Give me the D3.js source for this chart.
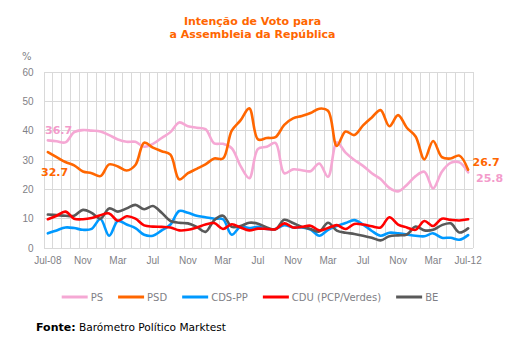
<!DOCTYPE html>
<meta charset="utf-8">
<head>
    <style>
        body { margin: 0; background: #fff; }
        svg { display: block; font-family: "DejaVu Sans", Verdana, sans-serif; }
        .grid line { stroke: #d9d9d9; stroke-width: 1; shape-rendering: crispEdges; }
        .axis text { fill: #7f7f86; font-size: 10px; }
    </style>
</head>
<body>
    <script src="https://d3js.org/d3.v7.min.js"></script>
    <div id="chart"></div>
    <script>
        // monthly polls, Jul-08 .. Jul-12
        var ps = [36.7, 36.4, 36.0, 39.5, 40.2, 40.0, 39.7, 38.5, 37.0, 36.2, 36.2, 34.5, 35.5,
            37.5, 39.5, 42.8, 41.5, 41.0, 40.5, 35.7, 35.5, 34.0, 28.0, 23.8, 33.8, 34.5, 35.8,
            25.5, 26.8, 26.5, 26.2, 28.8, 24.3, 36.0, 32.5, 30.0, 28.0, 25.5, 23.5, 20.5, 19.3,
            21.5, 24.5, 26.0, 20.3, 26.0, 29.0, 29.2, 25.8];
        var psd = [32.7, 31.0, 29.3, 28.2, 26.1, 25.5, 24.5, 28.5, 27.8, 26.4, 28.3, 35.9, 34.2,
            33.0, 31.8, 23.4, 25.5, 27.0, 28.5, 30.5, 30.5, 40.0, 43.5, 47.6, 37.0, 37.5, 37.8,
            42.0, 44.2, 45.0, 46.0, 47.5, 46.8, 34.8, 39.7, 38.5, 41.8, 44.5, 47.0, 41.5, 45.3,
            41.0, 38.0, 30.2, 36.5, 31.0, 30.5, 31.5, 26.7];
        var cds = [5.0, 6.0, 7.0, 6.8, 6.2, 6.5, 9.9, 4.2, 9.2, 8.0, 6.8, 4.5, 4.2,
            6.0, 8.0, 12.6, 12.0, 11.0, 10.5, 10.0, 9.8, 4.5, 7.2, 6.8, 7.2, 6.5, 6.5,
            7.8, 7.0, 7.0, 6.3, 4.2, 6.2, 7.5, 8.5, 9.5, 8.0, 5.8, 4.2, 5.2, 5.0,
            4.6, 4.2, 4.0, 5.0, 3.5, 3.5, 2.8, 4.4];
        var cdu = [9.8, 11.0, 12.4, 10.0, 9.8, 10.2, 11.2, 11.8, 9.3, 10.8, 10.0, 7.7, 7.3,
            7.2, 7.0, 6.0, 6.2, 7.0, 8.0, 8.5, 6.5, 8.1, 7.0, 6.0, 6.6, 6.5, 6.4,
            8.4, 7.0, 7.2, 7.6, 6.0, 6.8, 7.8, 6.5, 8.2, 8.0, 7.4, 7.0, 10.5, 8.0,
            7.0, 6.2, 9.2, 7.5, 10.0, 9.6, 9.4, 9.8];
        var be = [11.4, 11.2, 11.0, 11.0, 13.0, 12.0, 10.0, 13.5, 12.4, 13.5, 14.7, 13.2, 14.3,
            12.0, 9.2, 8.6, 8.4, 7.2, 5.5, 9.5, 11.0, 7.2, 7.5, 8.6, 8.3, 7.0, 6.4,
            9.6, 8.5, 7.2, 6.5, 5.6, 8.6, 5.9, 5.2, 4.8, 4.2, 3.5, 2.6, 4.0, 4.3,
            4.6, 7.3, 6.0, 6.2, 7.8, 8.4, 5.3, 6.7];

        var partyNames = ["PS", "PSD", "CDS-PP", "CDU (PCP/Verdes)", "BE"];
        var partyColors = ["#f5a8d4", "#ff6600", "#0099ff", "#ff0000", "#595959"];
        var tickLabels = ["Jul-08", "Nov", "Mar", "Jul", "Nov", "Mar", "Jul", "Nov", "Mar", "Jul", "Nov", "Mar", "Jul-12"];
        var yTicks = [0, 10, 20, 30, 40, 50, 60];

        var months = d3.timeMonth.range(new Date(2008, 6, 1), new Date(2012, 7, 1));
        var series = [ps, psd, cds, cdu, be];

        var W = 513, H = 346;
        var plot = { left: 43.5, right: 472.5, top: 72, bottom: 248 };

        var svg = d3.select("#chart").append("svg")
            .attr("width", W)
            .attr("height", H);

        var x = d3.scaleBand()
            .domain(d3.range(months.length))
            .range([plot.left, plot.right]);

        var y = d3.scaleLinear()
            .domain([0, 60])
            .range([plot.bottom, plot.top]);

        // title
        var title = svg.append("text")
            .attr("text-anchor", "middle")
            .attr("fill", "#ff6600")
            .attr("font-weight", "bold")
            .attr("font-size", "11px");
        title.append("tspan").attr("x", 252.5).attr("y", 25).text("Intenção de Voto para");
        title.append("tspan").attr("x", 252.5).attr("y", 38).text("a Assembleia da República");

        // grid: one column per month, rows every 10 points
        var grid = svg.append("g").attr("class", "grid");
        grid.selectAll("line.v")
            .data(d3.range(months.length + 1))
            .enter().append("line")
            .attr("x1", function (i) { return Math.round(plot.left + i * x.bandwidth()) + 0.5; })
            .attr("x2", function (i) { return Math.round(plot.left + i * x.bandwidth()) + 0.5; })
            .attr("y1", plot.top)
            .attr("y2", plot.bottom);
        grid.selectAll("line.h")
            .data(yTicks)
            .enter().append("line")
            .attr("x1", plot.left)
            .attr("x2", plot.right)
            .attr("y1", function (d) { return y(d); })
            .attr("y2", function (d) { return y(d); });

        // y-axis
        svg.append("g")
            .attr("class", "axis")
            .attr("transform", "translate(" + (plot.left - 10) + ",0)")
            .call(d3.axisLeft(y).tickValues(yTicks).tickSize(0).tickPadding(0))
            .call(function (g) { g.select(".domain").remove(); })
            .selectAll("text").attr("font-family", null).attr("font-size", null);

        svg.append("text")
            .attr("x", 22)
            .attr("y", 60)
            .attr("fill", "#7f7f86")
            .attr("font-size", "10px")
            .text("%");

        // x-axis, a label every 4 months
        var tickIdx = d3.range(0, months.length, 4);
        svg.append("g")
            .attr("class", "axis")
            .attr("transform", "translate(0," + plot.bottom + ")")
            .call(d3.axisBottom(x).tickValues(tickIdx).tickSize(0).tickPadding(9)
                .tickFormat(function (d) { return tickLabels[d / 4]; }))
            .call(function (g) { g.select(".domain").remove(); })
            .selectAll("text").attr("font-family", null).attr("font-size", null);

        // lines
        var line = d3.line()
            .x(function (d, i) { return x(i) + x.bandwidth() / 2; })
            .y(function (d) { return y(d); })
            .curve(d3.curveCatmullRom.alpha(0.5));

        var order = [0, 1, 2, 4, 3];
        order.forEach(function (s) {
            svg.append("path")
                .datum(series[s])
                .attr("fill", "none")
                .attr("stroke", partyColors[s])
                .attr("stroke-width", 2.6)
                .attr("stroke-linejoin", "round")
                .attr("stroke-linecap", "round")
                .attr("d", line);
        });

        // first and last values for PS and PSD
        var last = months.length - 1;
        var valueLabels = [
            { v: ps[0], x: 45, y: 133.5, c: "#f39bcb" },
            { v: psd[0], x: 41, y: 176, c: "#ff6600" },
            { v: psd[last], x: 472.5, y: 166, c: "#ff6600" },
            { v: ps[last], x: 476, y: 181.5, c: "#f39bcb" }
        ];
        svg.selectAll("text.val")
            .data(valueLabels)
            .enter().append("text")
            .attr("class", "val")
            .attr("x", function (d) { return d.x; })
            .attr("y", function (d) { return d.y; })
            .attr("fill", function (d) { return d.c; })
            .attr("font-weight", "bold")
            .attr("font-size", "11px")
            .text(function (d) { return d.v.toFixed(1); });

        // legend
        var legend = svg.append("g");
        var lx = 0;
        partyNames.forEach(function (name, i) {
            var item = legend.append("g").attr("transform", "translate(" + lx + ",0)");
            item.append("line")
                .attr("x1", 0).attr("x2", 26)
                .attr("y1", 297).attr("y2", 297)
                .attr("stroke", partyColors[i])
                .attr("stroke-width", 3);
            var t = item.append("text")
                .attr("x", 29)
                .attr("y", 300.5)
                .attr("fill", "#7f7f86")
                .attr("font-size", "10px")
                .text(name);
            lx += 29 + t.node().getComputedTextLength() + 15;
        });
        legend.attr("transform", "translate(" + (250 - (lx - 15) / 2) + ",0)");

        // source
        var src = svg.append("text")
            .attr("x", 36)
            .attr("y", 331)
            .attr("fill", "#000")
            .attr("font-size", "10.6px");
        src.append("tspan").attr("font-weight", "bold").attr("font-size", "11px").text("Fonte:");
        src.append("tspan").text(" Barómetro Político Marktest");
    </script>
</body>
